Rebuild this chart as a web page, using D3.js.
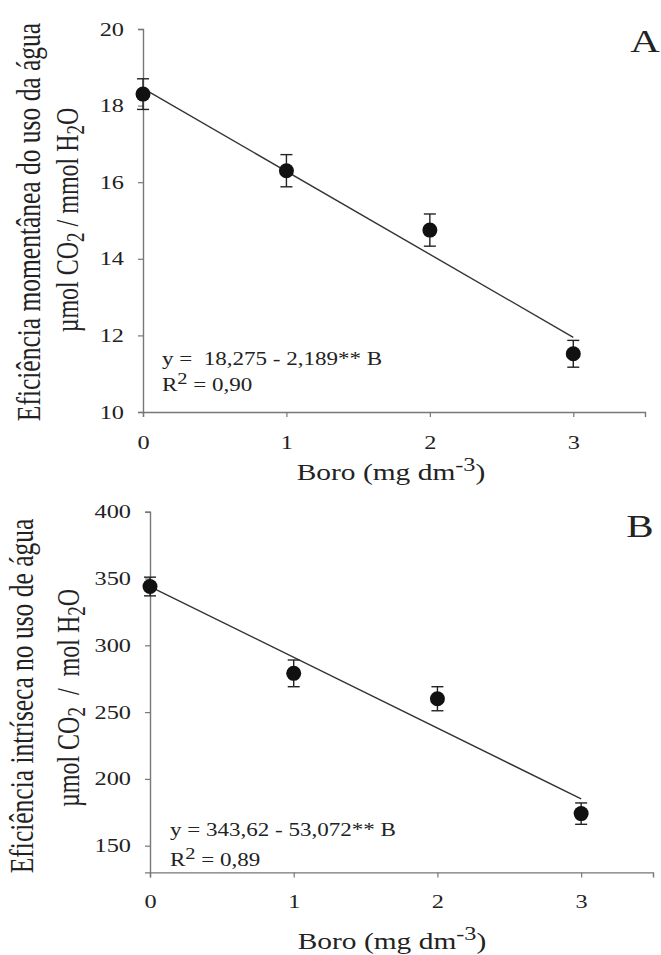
<!DOCTYPE html>
<html>
<head>
<meta charset="utf-8">
<script src="https://cdn.jsdelivr.net/npm/d3@7"></script>
<style>
  body { margin: 0; background: #fff; }
  text { font-family: "Liberation Serif", "Times New Roman", serif; fill: #222; }
</style>
</head>
<body>
<div id="container"></div>
<script>
/* DATA */
const boro = [0, 1, 2, 3]
const xTicks = [0, 1, 2, 3]

// panel A - eficiencia momentanea
const meanA = [18.3, 16.3, 14.75, 11.52]
const errA = [0.4, 0.42, 0.42, 0.35]
const trendA = [18.45, 11.95]        // fitted line at B = 0 and B = 3
const yTicksA = [10, 12, 14, 16, 18, 20]

// panel B - eficiencia intrinseca
const meanB = [344, 279, 260, 174]
const errB = [7, 10, 9, 8]
const trendB = [344, 185]
const yTicksB = [150, 200, 250, 300, 350, 400]

const width = 661, height = 955
const stretch = 1.28   // the original figure is a bit wider than tall

const svg = d3.select("#container")
  .append("svg")
  .attr("width", width)
  .attr("height", height)

// text placed at x,y and widened horizontally
function wideText(g, x, y, size, rotate) {
  return g.append("text")
    .attr("transform", `translate(${x}, ${y}) scale(${stretch}, 1)` + (rotate ? " rotate(-90)" : ""))
    .attr("font-size", size)
}

function panel(cfg) {
  const x = d3.scaleLinear().domain([0, 3.5]).range(cfg.xr)
  const y = d3.scaleLinear().domain(cfg.yd).range(cfg.yr)
  const g = svg.append("g")

  // axes
  const xAxis = d3.axisBottom(x).tickValues(xTicks).tickFormat(d3.format("d"))
    .tickSize(5).tickPadding(cfg.xPad)
  g.append("g")
    .attr("transform", `translate(0, ${cfg.yr[0]})`)
    .call(xAxis)
  const yAxis = d3.axisLeft(y).tickValues(cfg.yTicks).tickFormat(d3.format("d"))
    .tickSize(5)
  const ya = g.append("g")
    .attr("transform", `translate(${cfg.xr[0]}, 0)`)
    .call(yAxis)
  ya.selectAll(".tick text").attr("x", -19 / stretch)
  g.selectAll(".domain").attr("stroke", "#777").attr("stroke-width", 1.4)
  g.selectAll(".tick line").attr("stroke", "#777").attr("stroke-width", 1.2)
  g.selectAll(".tick text")
    .style("font-family", "Liberation Serif")
    .attr("font-size", 19).attr("fill", "#333")
    .attr("transform", `scale(${stretch}, 1)`)
  g.selectAll(".tick").filter(function () { return this.parentNode !== ya.node() })
    .select("text").attr("x", 0)

  // trend line
  const lineGen = d3.line().x(d => x(d[0])).y(d => y(d[1]))
  g.append("path")
    .attr("fill", "none")
    .attr("stroke", "#333")
    .attr("stroke-width", 1.4)
    .attr("d", lineGen([[0, cfg.trend[0]], [3, cfg.trend[1]]]))

  // error bars
  const pts = boro.map((b, i) => ({ b, m: cfg.mean[i], e: cfg.err[i] }))
  const eb = g.selectAll(".eb").data(pts).join("g").attr("class", "eb")
    .attr("stroke", "#222").attr("stroke-width", 1.4)
  eb.append("line")
    .attr("x1", d => x(d.b)).attr("x2", d => x(d.b))
    .attr("y1", d => y(d.m + d.e)).attr("y2", d => y(d.m - d.e))
  eb.append("line")
    .attr("x1", d => x(d.b) - 6).attr("x2", d => x(d.b) + 6)
    .attr("y1", d => y(d.m + d.e)).attr("y2", d => y(d.m + d.e))
  eb.append("line")
    .attr("x1", d => x(d.b) - 6).attr("x2", d => x(d.b) + 6)
    .attr("y1", d => y(d.m - d.e)).attr("y2", d => y(d.m - d.e))

  // points
  g.selectAll(".pt").data(pts).join("circle")
    .attr("class", "pt")
    .attr("cx", d => x(d.b))
    .attr("cy", d => y(d.m))
    .attr("r", 7.5)
    .attr("fill", "#111")

  // panel letter
  wideText(g, cfg.letterX, cfg.letterY, 32)
    .attr("text-anchor", "middle")
    .text(cfg.letter)

  // equation
  wideText(g, cfg.eqX, cfg.eqY, 18)
    .style("white-space", "pre")
    .text(cfg.eq)
  const r2 = wideText(g, cfg.eqX, cfg.r2Y, 18)
  r2.append("tspan").text("R")
  r2.append("tspan").attr("dy", -7).attr("font-size", 16).text("2")
  r2.append("tspan").attr("dy", 7).text(" = " + cfg.r2)

  // x label
  const xl = wideText(g, cfg.xLabelX, cfg.xLabelY, 23)
    .attr("text-anchor", "middle")
  xl.append("tspan").text("Boro (mg dm")
  xl.append("tspan").attr("dy", -9).attr("font-size", 19).text("-3")
  xl.append("tspan").attr("dy", 9).text(")")

  // y label, two lines
  wideText(g, cfg.yl1X, cfg.yl1Y, 25.5, true)
    .attr("text-anchor", "middle")
    .text(cfg.yTitle)
  const yl2 = wideText(g, cfg.yl2X, cfg.yl2Y, 24, true)
    .attr("text-anchor", "middle")
  yl2.append("tspan").text("µmol CO")
  yl2.append("tspan").attr("dy", 5).attr("font-size", 19).text("2")
  yl2.append("tspan").attr("dy", -5).style("white-space", "pre").text(cfg.yUnit)
  yl2.append("tspan").attr("dy", 5).attr("font-size", 19).text("2")
  yl2.append("tspan").attr("dy", -5).text("O")
}

panel({
  xr: [143, 645], yd: [10, 20], yr: [412, 29], yTicks: yTicksA, xPad: 19,
  mean: meanA, err: errA, trend: trendA,
  letter: "A", letterX: 645, letterY: 52,
  eq: "y =  18,275 - 2,189** B", r2: "0,90", eqX: 162, eqY: 365, r2Y: 391,
  xLabelX: 391, xLabelY: 480,
  yTitle: "Eficiência momentânea do uso da água",
  yUnit: " / mmol H",
  yl1X: 40, yl1Y: 222, yl2X: 78, yl2Y: 220
})

panel({
  xr: [150, 653], yd: [130, 400], yr: [872.4, 511.7], yTicks: yTicksB, xPad: 17,
  mean: meanB, err: errB, trend: trendB,
  letter: "B", letterX: 640, letterY: 537,
  eq: "y = 343,62 - 53,072** B", r2: "0,89", eqX: 170, eqY: 836, r2Y: 866,
  xLabelX: 392, xLabelY: 949,
  yTitle: "Eficiência intríseca no uso de água",
  yUnit: "  /  mol H",
  yl1X: 33, yl1Y: 696, yl2X: 79, yl2Y: 698
})
</script>
</body>
</html>
